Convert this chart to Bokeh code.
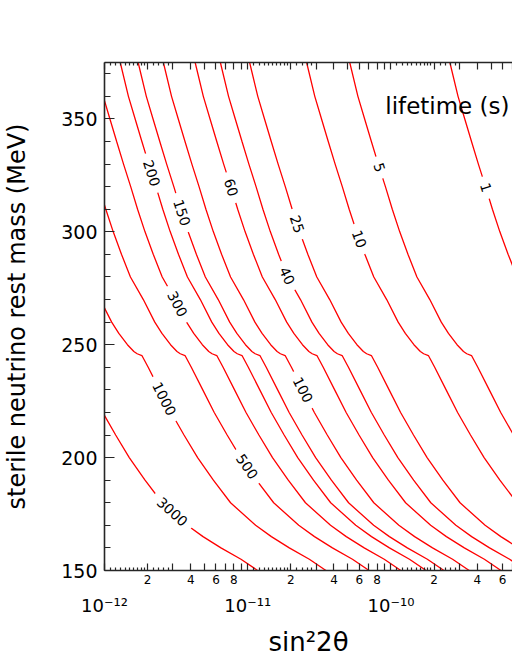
import numpy as np
from bokeh.plotting import figure
from bokeh.models import LogAxis, LinearAxis, FixedTicker, Label, ColumnDataSource, Range1d
from bokeh.core.properties import value
from bokeh.embed import file_html
from bokeh.resources import INLINE

# ---- data ----
# contour shape: log10(sin^2 2theta) of the 1 s lifetime contour vs. mass
mass_MeV = [150, 155, 160, 165, 170, 180, 190, 200, 210, 220, 230, 240, 245.2,
            246, 247, 250, 255, 260, 270, 280, 290, 300, 310, 320, 330, 340,
            350, 360, 375]
log10_s_at_1s = [-7.454, -7.570, -7.710, -7.835, -7.945, -8.120, -8.240, -8.350,
                 -8.445, -8.535, -8.615, -8.695, -8.739, -8.772, -8.795, -8.840,
                 -8.900, -8.950, -9.030, -9.120, -9.182, -9.240, -9.292, -9.340,
                 -9.390, -9.438, -9.485, -9.532, -9.589]
lifetimes_s = [3000, 1000, 500, 300, 200, 150, 100, 60, 40, 25, 10, 5, 1]
label_mass_MeV = [176, 226, 196, 268, 326, 308.5, 230, 319.6, 280.5, 303.4, 296.8, 328.5, 319.6]

y_major = [150, 200, 250, 300, 350]
y_minor = list(range(150, 376, 10))
decades = [1e-12, 1e-11, 1e-10]
decade_labels = ["10\u207b\u00b9\u00b2", "10\u207b\u00b9\u00b9", "10\u207b\u00b9\u2070"]
mid_mult = [2, 3, 4, 5, 6, 7, 8, 9]
labeled_mult = [2, 4, 6, 8]
fine_mult = [1.1, 1.2, 1.3, 1.4, 1.5, 1.6, 1.7, 1.8, 1.9, 2.2, 2.4, 2.6, 2.8]
exps = [-12, -11, -10]

x_start, x_end = 1e-12, 7.05e-10
y_start, y_end = 150, 375

# ---- layout ----
W, H = 512, 663
B_LEFT, B_TOP, B_BOTTOM = 101, 62, 93
FONT = "DejaVu Sans"
AX = "#262626"
LABEL_PX = 14

mid_ticks = [float(f"{k}e{e}") for e in exps for k in mid_mult if float(f"{k}e{e}") <= x_end]
fine_ticks = [float(f"{k}e{e}") for e in exps for k in fine_mult if float(f"{k}e{e}") <= x_end]
x_major = sorted(decades + mid_ticks)
x_over = {float(f"{k}e{e}"): (str(k) if k in labeled_mult else "")
          for e in exps for k in mid_mult if float(f"{k}e{e}") <= x_end}
x_over.update({d: "" for d in decades})

p = figure(width=W, height=H, x_axis_type="log",
           x_range=Range1d(x_start, x_end), y_range=Range1d(y_start, y_end),
           x_axis_location=None, y_axis_location=None,
           output_backend="svg", toolbar_location=None,
           min_border_left=B_LEFT, min_border_right=0,
           min_border_top=B_TOP, min_border_bottom=B_BOTTOM)
p.grid.visible = False
p.outline_line_color = None
p.background_fill_color = "white"
p.border_fill_color = "white"

# left axis
ya = LinearAxis(ticker=FixedTicker(ticks=y_major, minor_ticks=y_minor),
                major_tick_in=10, major_tick_out=0, minor_tick_in=6, minor_tick_out=0,
                major_label_standoff=7, major_label_text_font=FONT,
                major_label_text_font_size="19px", major_label_text_color="black",
                axis_line_color=AX, axis_line_width=1.6,
                major_tick_line_color=AX, minor_tick_line_color=AX,
                major_tick_line_width=1.2, minor_tick_line_width=1.2,
                axis_label="sterile neutrino rest mass (MeV)", axis_label_standoff=27,
                axis_label_text_font=FONT, axis_label_text_font_size="24px",
                axis_label_text_font_style="normal", axis_label_text_color="black")
p.add_layout(ya, "left")

# bottom axis: ticks with labels 2,4,6,8
xb = LogAxis(ticker=FixedTicker(ticks=x_major, minor_ticks=fine_ticks),
             major_label_overrides=x_over,
             major_tick_in=7, major_tick_out=0, minor_tick_in=3, minor_tick_out=0,
             major_label_standoff=4, major_label_text_font=FONT,
             major_label_text_font_size="12px", major_label_text_color="black",
             axis_line_color=AX, axis_line_width=1.6,
             major_tick_line_color=AX, minor_tick_line_color=AX,
             major_tick_line_width=1.2, minor_tick_line_width=1.2)
p.add_layout(xb, "below")

# decade labels and title
xc = LogAxis(ticker=FixedTicker(ticks=decades),
             major_label_overrides=dict(zip(decades, decade_labels)),
             axis_line_color=None, major_tick_line_color=None, minor_tick_line_color=None,
             major_tick_in=0, major_tick_out=0, minor_tick_in=0, minor_tick_out=0,
             major_label_standoff=8, major_label_text_font=FONT,
             major_label_text_font_size="18px", major_label_text_color="black",
             axis_label="sin\u00b22\u03b8", axis_label_standoff=8,
             axis_label_text_font=FONT, axis_label_text_font_size="26px",
             axis_label_text_font_style="normal", axis_label_text_color="black")
p.add_layout(xc, "below")

# top axis: ticks only
xt = LogAxis(ticker=FixedTicker(ticks=x_major, minor_ticks=fine_ticks),
             major_label_overrides={t: "" for t in x_major},
             major_label_text_font=FONT, major_label_text_font_size="12px",
             major_label_standoff=0,
             major_tick_in=7, major_tick_out=0, minor_tick_in=3, minor_tick_out=0,
             axis_line_color=AX, axis_line_width=1.6,
             major_tick_line_color=AX, minor_tick_line_color=AX,
             major_tick_line_width=1.2, minor_tick_line_width=1.2)
p.add_layout(xt, "above")

# contour lines
shape = np.array(log10_s_at_1s)
for tau in lifetimes_s:
    xs = 10 ** (shape - np.log10(tau))
    p.line(xs, mass_MeV, line_color="#ff0000", line_width=1.3)

# inline contour labels (white mask under each label makes the gap in the line)
fw = W - B_LEFT
fh = H - B_TOP - B_BOTTOM
px_dec = fw / (np.log10(x_end) - np.log10(x_start))
px_mev = fh / (y_end - y_start)
lm = np.array(label_mass_MeV, dtype=float)
lab_log = np.interp(lm, mass_MeV, shape) - np.log10(lifetimes_s)
slope = (np.interp(lm + 3, mass_MeV, shape) - np.interp(lm - 3, mass_MeV, shape)) / 6.0
angles = np.arctan2(-px_mev, -px_dec * slope)
texts = [str(t) for t in lifetimes_s]
gap_w = [len(t) * 0.64 * LABEL_PX + 14 for t in texts]
src = ColumnDataSource(dict(x=10 ** lab_log, y=lm, text=texts, angle=angles, w=gap_w))
p.rect("x", "y", width="w", height=LABEL_PX, width_units="screen", height_units="screen",
       angle="angle", source=src, fill_color="white", line_color=None)
p.text("x", "y", "text", angle="angle", source=src, text_font=value(FONT),
       text_font_size=f"{LABEL_PX}px", text_align="center", text_baseline="middle",
       text_color="black")

p.add_layout(Label(x=x_end, y=y_end, x_offset=-3, y_offset=-43, text="lifetime (s)",
                   text_align="right", text_baseline="alphabetic", text_font=FONT,
                   text_font_size="23px", text_color="black"))

open("out.html", "w").write(file_html(p, INLINE))
